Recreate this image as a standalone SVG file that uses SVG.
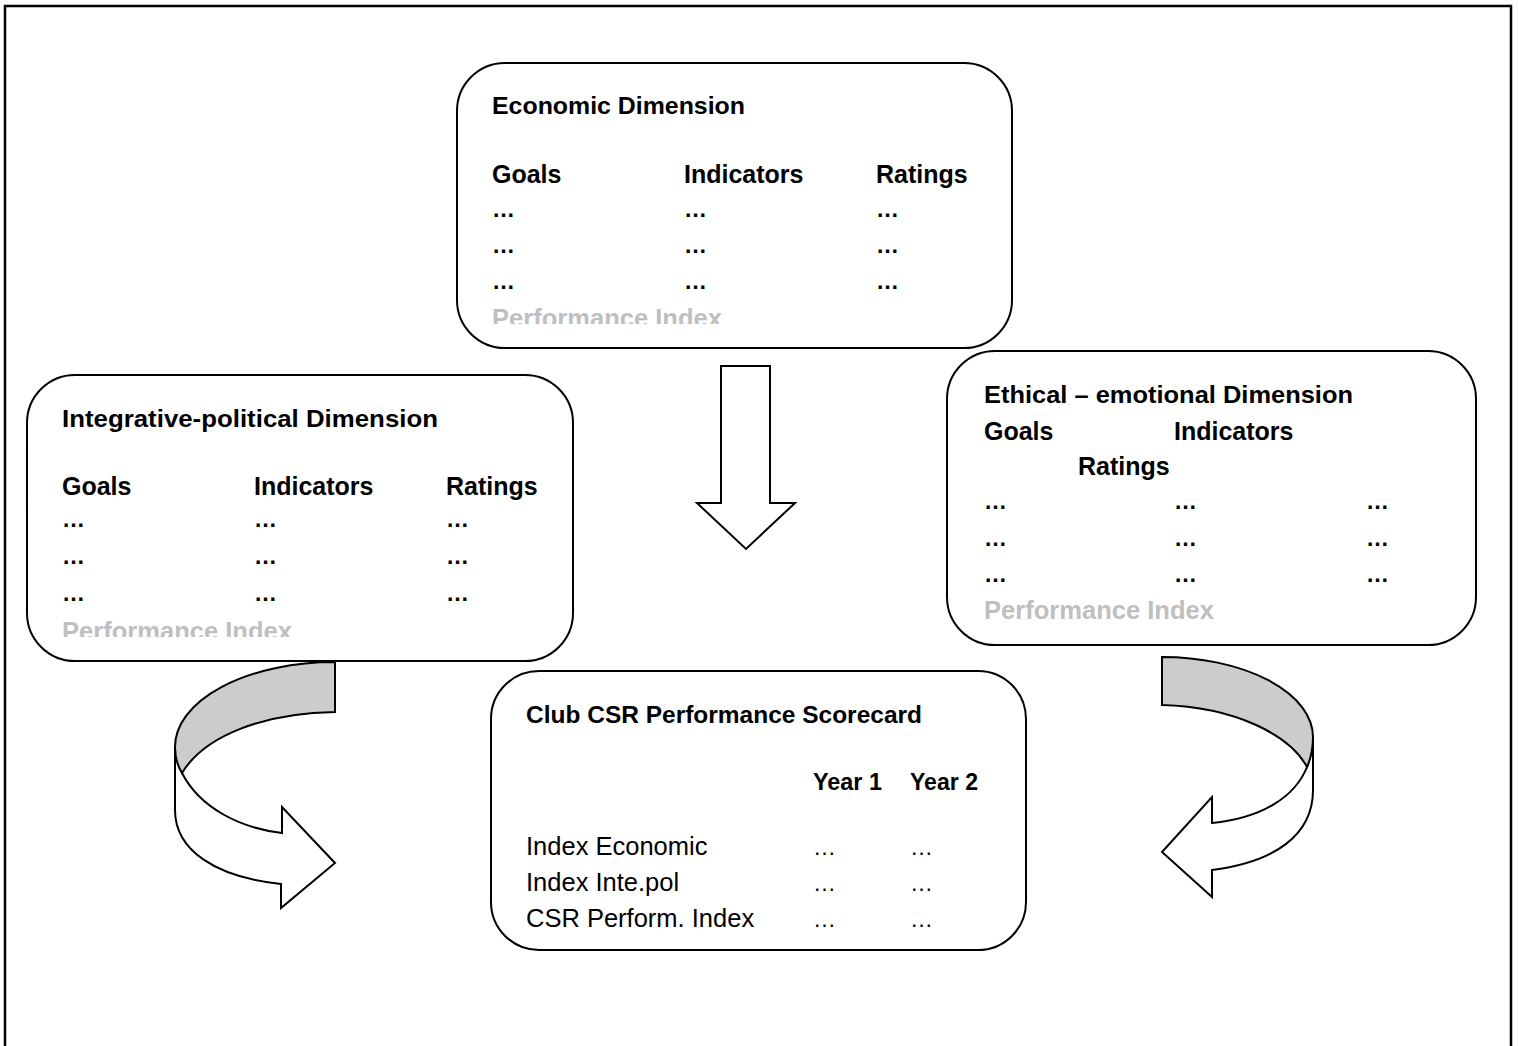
<svg xmlns="http://www.w3.org/2000/svg" width="1518" height="1046" viewBox="0 0 1518 1046">
  <style>
    .frame { fill: #ffffff; stroke: #000000; stroke-width: 2.5; }
    .box { fill: #ffffff; stroke: #000000; stroke-width: 2; }
    .arrow { fill: #ffffff; stroke: #000000; stroke-width: 2; stroke-linejoin: miter; }
    .band { fill: #cccccc; stroke: #000000; stroke-width: 2; stroke-linejoin: miter; }
    text { font-family: "Liberation Sans", Arial, sans-serif; fill: #000000; }
    .title { font-size: 24.5px; font-weight: bold; }
    .head { font-size: 25px; font-weight: bold; }
    .year { font-size: 23px; font-weight: bold; }
    .dots { font-size: 23px; font-weight: bold; }
    .pidx { font-size: 25px; font-weight: bold; fill: #bfbfbf; }
    .row { font-size: 25.5px; }
    .rdots { font-size: 23px; }
  </style>
  <defs>
    <clipPath id="clipEco"><rect x="460" y="290" width="540" height="34"/></clipPath>
    <clipPath id="clipInt"><rect x="30" y="600" width="540" height="37"/></clipPath>
  </defs>

  <!-- outer frame -->
  <rect class="frame" x="5" y="6" width="1506" height="1060"/>

  <!-- connectors -->
  <g id="connectors">
    <!-- straight block arrow: economic -> scorecard -->
    <path class="arrow" d="M721,366 L770,366 L770,503 L795,503 L746,549 L697,503 L721,503 Z"/>

    <!-- curved arrow on the left -->
    <path class="arrow" d="M175,747 L175,810 C175,850 215,877 281,884 L281,908 L335,863 L282,807 L282,833 C240,828 200,808 182,773 Z"/>
    <path class="band" d="M335,662 L335,712 C265,713 205,735 182,773 C177,765 175,756 175,747 A160,85 0 0 1 335,662 Z"/>

    <!-- curved arrow on the right -->
    <path class="arrow" d="M1313,737 L1313,790 C1313,835 1275,862 1212,870 L1212,897 L1162,852 L1212,797 L1212,823 C1262,818 1295,797 1307,767 Z"/>
    <path class="band" d="M1162,657 A151,80 0 0 1 1313,737 C1313,748 1311,758 1307,767 C1290,735 1235,707 1162,705 Z"/>
  </g>

  <!-- economic dimension -->
  <g id="economic">
    <rect class="box" x="457" y="63" width="555" height="285" rx="48" ry="48"/>
    <text class="title" x="492" y="114" textLength="253" lengthAdjust="spacingAndGlyphs">Economic Dimension</text>
    <text class="head" x="492" y="183">Goals</text>
    <text class="head" x="684" y="183">Indicators</text>
    <text class="head" x="876" y="183">Ratings</text>
    <text class="dots" x="492" y="217">…</text>
    <text class="dots" x="684" y="217">…</text>
    <text class="dots" x="876" y="217">…</text>
    <text class="dots" x="492" y="253">…</text>
    <text class="dots" x="684" y="253">…</text>
    <text class="dots" x="876" y="253">…</text>
    <text class="dots" x="492" y="289">…</text>
    <text class="dots" x="684" y="289">…</text>
    <text class="dots" x="876" y="289">…</text>
    <text class="pidx" x="492" y="327" textLength="230" lengthAdjust="spacingAndGlyphs" clip-path="url(#clipEco)">Performance Index</text>
  </g>

  <!-- integrative-political dimension -->
  <g id="integrative">
    <rect class="box" x="27" y="375" width="546" height="286" rx="48" ry="48"/>
    <text class="title" x="62" y="427" textLength="376" lengthAdjust="spacingAndGlyphs">Integrative-political Dimension</text>
    <text class="head" x="62" y="495">Goals</text>
    <text class="head" x="254" y="495">Indicators</text>
    <text class="head" x="446" y="495">Ratings</text>
    <text class="dots" x="62" y="527">…</text>
    <text class="dots" x="254" y="527">…</text>
    <text class="dots" x="446" y="527">…</text>
    <text class="dots" x="62" y="564">…</text>
    <text class="dots" x="254" y="564">…</text>
    <text class="dots" x="446" y="564">…</text>
    <text class="dots" x="62" y="601">…</text>
    <text class="dots" x="254" y="601">…</text>
    <text class="dots" x="446" y="601">…</text>
    <text class="pidx" x="62" y="640" textLength="230" lengthAdjust="spacingAndGlyphs" clip-path="url(#clipInt)">Performance Index</text>
  </g>

  <!-- ethical-emotional dimension -->
  <g id="ethical">
    <rect class="box" x="947" y="351" width="529" height="294" rx="48" ry="48"/>
    <text class="title" x="984" y="403" textLength="369" lengthAdjust="spacingAndGlyphs">Ethical – emotional Dimension</text>
    <text class="head" x="984" y="440">Goals</text>
    <text class="head" x="1174" y="440">Indicators</text>
    <text class="head" x="1078" y="475">Ratings</text>
    <text class="dots" x="984" y="509">…</text>
    <text class="dots" x="1174" y="509">…</text>
    <text class="dots" x="1366" y="509">…</text>
    <text class="dots" x="984" y="546">…</text>
    <text class="dots" x="1174" y="546">…</text>
    <text class="dots" x="1366" y="546">…</text>
    <text class="dots" x="984" y="582">…</text>
    <text class="dots" x="1174" y="582">…</text>
    <text class="dots" x="1366" y="582">…</text>
    <text class="pidx" x="984" y="619" textLength="230" lengthAdjust="spacingAndGlyphs">Performance Index</text>
  </g>

  <!-- club CSR performance scorecard -->
  <g id="scorecard">
    <rect class="box" x="491" y="671" width="535" height="279" rx="48" ry="48"/>
    <text class="title" x="526" y="723" textLength="396" lengthAdjust="spacingAndGlyphs">Club CSR Performance Scorecard</text>
    <text class="year" x="813" y="790" textLength="69" lengthAdjust="spacingAndGlyphs">Year 1</text>
    <text class="year" x="910" y="790" textLength="68" lengthAdjust="spacingAndGlyphs">Year 2</text>
    <text class="row" x="526" y="855">Index Economic</text>
    <text class="row" x="526" y="891">Index Inte.pol</text>
    <text class="row" x="526" y="927">CSR Perform. Index</text>
    <text class="rdots" x="813" y="855">…</text>
    <text class="rdots" x="910" y="855">…</text>
    <text class="rdots" x="813" y="891">…</text>
    <text class="rdots" x="910" y="891">…</text>
    <text class="rdots" x="813" y="927">…</text>
    <text class="rdots" x="910" y="927">…</text>
  </g>
</svg>
